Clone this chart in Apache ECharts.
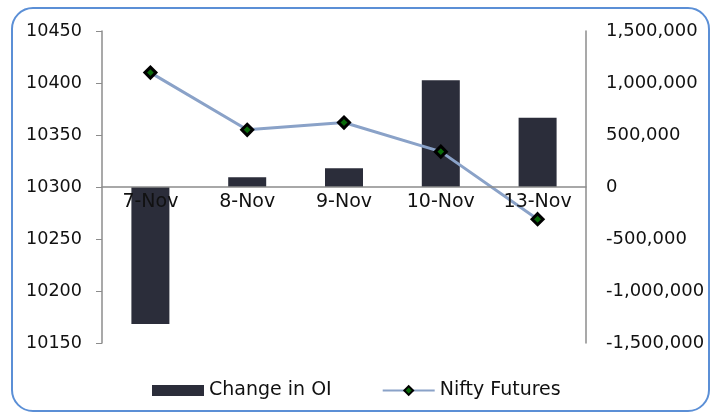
<!DOCTYPE html>
<html>
<head>
<meta charset="utf-8">
<script src="https://cdn.jsdelivr.net/npm/echarts@6/dist/echarts.min.js"></script>
<style>
  html, body { margin: 0; padding: 0; background: #fff; }
  #main { width: 720px; height: 413px; }
</style>
</head>
<body>
<div id="main"></div>
<script>
// data
var category = ['7-Nov', '8-Nov', '9-Nov', '10-Nov', '13-Nov']
var oiData = [-1317000, 93000, 180000, 1026000, 666000]      // Change in OI (right axis)
var niftyData = [10410, 10355, 10362, 10334, 10269]          // Nifty Futures (left axis)

var font = 'DejaVu Sans'
var mainEcharts = echarts.init(document.getElementById('main'))

mainEcharts.setOption({
  animation: false,
  textStyle: { fontFamily: font },
  graphic: [{
    type: 'rect',
    shape: { x: 12, y: 8, width: 697, height: 403, r: 21 },
    style: { fill: 'none', stroke: '#5b8fd6', lineWidth: 2 },
    z: -1
  }],
  legend: {
    bottom: 8,
    left: 147,
    itemWidth: 52,
    itemHeight: 11,
    itemGap: 50,
    textStyle: { color: '#111', fontSize: 19, fontFamily: font },
    data: [
      { name: 'Change in OI', icon: 'rect' },
      { name: 'Nifty Futures' }
    ]
  },
  grid: { left: 102, right: 134, top: 31, bottom: 70 },
  xAxis: {
    type: 'category',
    data: category,
    position: 'bottom',
    offset: -156,   // sits on the zero line of the right axis
    z: 10,
    axisLine: { onZero: false, lineStyle: { color: '#8c8c8c', width: 1.5 } },
    axisTick: { show: false },
    axisLabel: { color: '#111', fontSize: 19, margin: 6 }
  },
  yAxis: [{
    type: 'value',
    min: 10150,
    max: 10450,
    interval: 50,
    splitLine: { show: false },
    axisLine: { show: true, lineStyle: { color: '#8c8c8c', width: 1.5 } },
    axisTick: { show: true, length: 6, lineStyle: { color: '#8c8c8c' } },
    axisLabel: {
      color: '#111', fontSize: 17.6, margin: 20,
      formatter: function (v) { return String(v) }
    }
  }, {
    type: 'value',
    min: -1500000,
    max: 1500000,
    interval: 500000,
    position: 'right',
    splitLine: { show: false },
    axisLine: { show: true, lineStyle: { color: '#8c8c8c', width: 1.5 } },
    axisTick: { show: false },
    axisLabel: {
      color: '#111', fontSize: 18, margin: 20,
      formatter: function (v) { return v.toLocaleString('en-US') }
    }
  }],
  series: [{
    name: 'Change in OI',
    type: 'bar',
    yAxisIndex: 1,
    barWidth: 38,
    itemStyle: { color: '#2b2d3a' },
    data: oiData
  }, {
    name: 'Nifty Futures',
    type: 'line',
    yAxisIndex: 0,
    symbol: 'diamond',
    symbolSize: 11,
    lineStyle: { color: '#8aa2c8', width: 3 },
    itemStyle: { color: '#0a6a0a', borderColor: '#000', borderWidth: 3 },
    z: 5,
    data: niftyData
  }]
})
</script>
</body>
</html>
